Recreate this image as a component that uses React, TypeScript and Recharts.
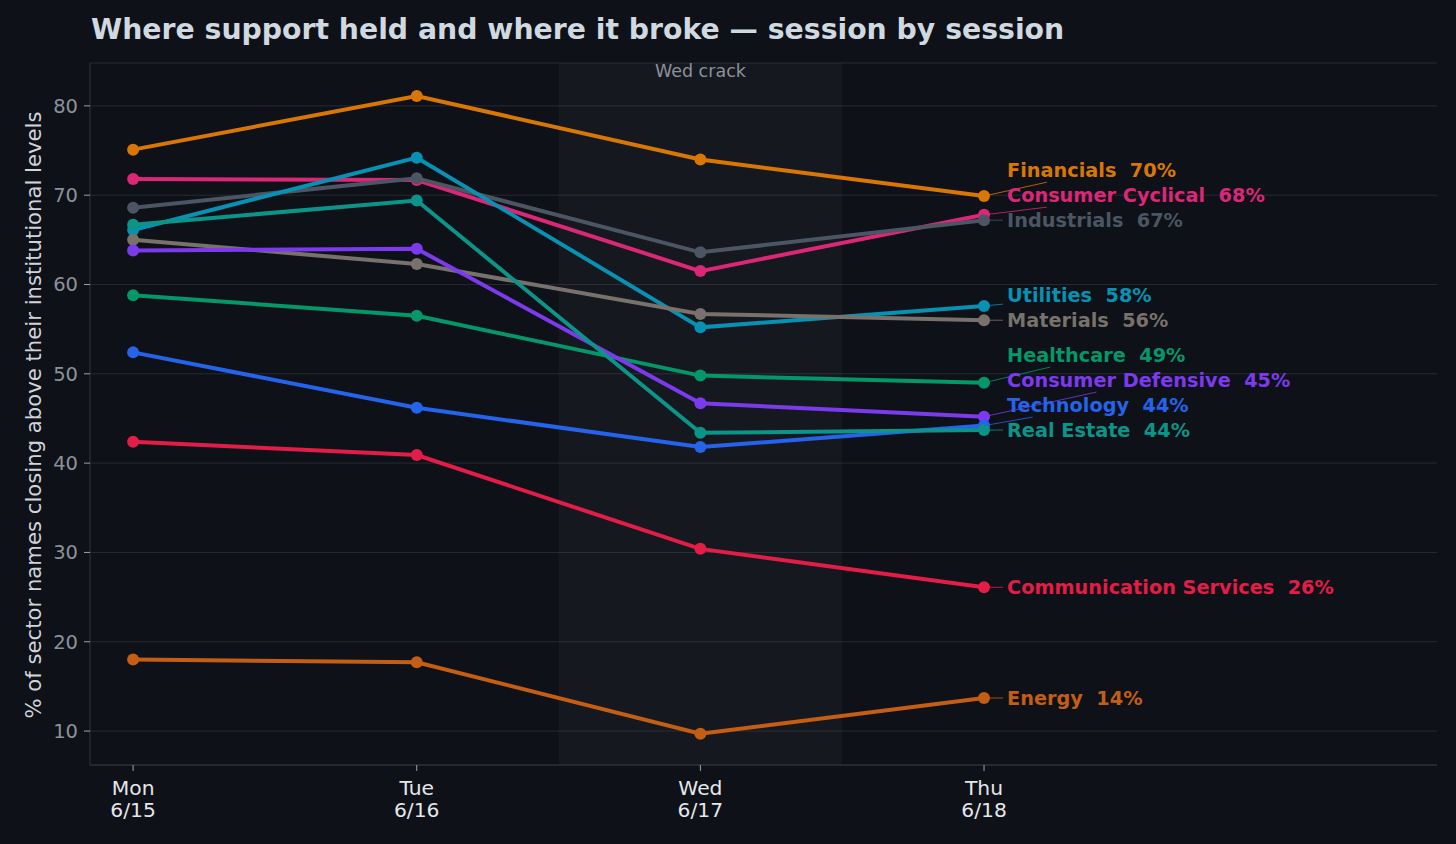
import {
  CartesianGrid,
  LabelList,
  Line,
  LineChart,
  ReferenceArea,
  XAxis,
  YAxis,
} from "recharts";

const DAYS = ["Mon", "Tue", "Wed", "Thu"];
const DATES = ["6/15", "6/16", "6/17", "6/18"];
const Y_TICKS = [10, 20, 30, 40, 50, 60, 70, 80];

// % of names above institutional levels, Mon..Thu
const FINANCIALS = [75.1, 81.1, 74.0, 69.9];
const CONSUMER_CYCLICAL = [71.8, 71.7, 61.5, 67.8];
const INDUSTRIALS = [68.6, 71.9, 63.6, 67.2];
const UTILITIES = [66.1, 74.2, 55.2, 57.6];
const MATERIALS = [65.0, 62.3, 56.7, 56.0];
const HEALTHCARE = [58.8, 56.5, 49.8, 49.0];
const CONSUMER_DEFENSIVE = [63.8, 64.0, 46.7, 45.2];
const TECHNOLOGY = [52.4, 46.2, 41.8, 44.2];
const REAL_ESTATE = [66.7, 69.4, 43.4, 43.7];
const COMMUNICATION = [42.4, 40.9, 30.4, 26.1];
const ENERGY = [18.0, 17.7, 9.7, 13.7];

const SERIES = [
  { name: "Financials", values: FINANCIALS, color: "#d97706" },
  { name: "Consumer Cyclical", values: CONSUMER_CYCLICAL, color: "#db2777" },
  { name: "Industrials", values: INDUSTRIALS, color: "#4b5563" },
  { name: "Utilities", values: UTILITIES, color: "#0891b2" },
  { name: "Materials", values: MATERIALS, color: "#78716c" },
  { name: "Healthcare", values: HEALTHCARE, color: "#059669" },
  { name: "Consumer Defensive", values: CONSUMER_DEFENSIVE, color: "#7c3aed" },
  { name: "Technology", values: TECHNOLOGY, color: "#2563eb" },
  { name: "Real Estate", values: REAL_ESTATE, color: "#0d9488" },
  { name: "Communication Services", values: COMMUNICATION, color: "#e11d48" },
  { name: "Energy", values: ENERGY, color: "#c45e14" },
];

const rows = DAYS.map((_, i) => {
  const row: Record<string, number> = { idx: i };
  SERIES.forEach((s) => (row[s.name] = s.values[i]));
  return row;
});

const W = 1456;
const H = 844;
const MARGIN = { top: 63, right: 19, bottom: 0, left: 0 };
const Y_AXIS_W = 90;
const X_AXIS_H = 79;
const Y_DOMAIN: [number, number] = [6.2, 84.8];
const X_DOMAIN: [number, number] = [-0.152, 4.597];
const PX_PER_UNIT = (H - MARGIN.top - X_AXIS_H) / (Y_DOMAIN[1] - Y_DOMAIN[0]);
const LABEL_GAP = 25;
const FONT = "'DejaVu Sans', sans-serif";
const BG = "#0e1117";

// push end labels apart (bottom-up), result is px shift from the end point
const labelShift: Record<string, number> = (() => {
  const last = (s: (typeof SERIES)[number]) => s.values[s.values.length - 1];
  const order = [...SERIES].sort((a, b) => last(b) - last(a));
  const py = order.map((s) => (Y_DOMAIN[1] - last(s)) * PX_PER_UNIT);
  const ly = [...py];
  for (let i = ly.length - 2; i >= 0; i--) ly[i] = Math.min(py[i], ly[i + 1] - LABEL_GAP);
  const out: Record<string, number> = {};
  order.forEach((s, i) => (out[s.name] = ly[i] - py[i]));
  return out;
})();

function XTick({ x, y, payload }: any) {
  const i = payload.value as number;
  return (
    <text x={x} y={y} textAnchor="middle" fill="#e5e7eb" fontSize={20.3} fontFamily={FONT}>
      <tspan x={x} dy={22}>{DAYS[i]}</tspan>
      <tspan x={x} dy={22}>{DATES[i]}</tspan>
    </text>
  );
}

function endLabel(s: (typeof SERIES)[number]) {
  return (p: any) => {
    if (p.index !== s.values.length - 1) return null;
    const px = Number(p.x);
    const py = Number(p.y);
    const text = `${s.name}  ${Math.round(s.values[s.values.length - 1])}%`;
    const tx = px + 23;
    const ty = py + labelShift[s.name];
    const w = text.length * 0.66 * 19;
    const cx = tx + w / 2;
    // leader runs toward the label centre, stopping at the label box
    const x0 = tx - 4;
    const tX = (x0 - px) / (cx - px);
    let tY = 0;
    if (ty < py) tY = (ty + 12 - py) / (ty - py);
    else if (ty > py) tY = (ty - 12 - py) / (ty - py);
    const t = Math.max(tX, tY);
    return (
      <g>
        <line
          x1={px}
          y1={py}
          x2={px + t * (cx - px)}
          y2={py + t * (ty - py)}
          stroke={s.color}
          strokeWidth={1}
          strokeOpacity={0.8}
        />
        <text
          x={tx}
          y={ty}
          dominantBaseline="central"
          fill={s.color}
          fontSize={19.3}
          fontWeight="bold"
          fontFamily={FONT}
          style={{ whiteSpace: "pre" }}
        >
          {text}
        </text>
      </g>
    );
  };
}

export default function App() {
  return (
    <div
      style={{
        position: "absolute",
        left: 0,
        top: 0,
        width: W,
        height: H,
        background: BG,
        fontFamily: FONT,
      }}
    >
      <LineChart width={W} height={H} data={rows} margin={MARGIN}>
        <CartesianGrid vertical={false} stroke="#252a32" strokeWidth={1} />
        <ReferenceArea
          x1={1.5}
          x2={2.5}
          fill="#ffffff"
          fillOpacity={0.03}
          stroke="none"
          label={{
            value: "Wed crack",
            position: "insideTop",
            fill: "#8b929b",
            fontSize: 17.5,
            fontFamily: FONT,
            offset: 2,
          }}
        />
        <XAxis
          type="number"
          dataKey="idx"
          domain={X_DOMAIN}
          ticks={[0, 1, 2, 3]}
          allowDataOverflow
          height={X_AXIS_H}
          tick={<XTick />}
          tickSize={6}
          axisLine={{ stroke: "#30353d" }}
          tickLine={{ stroke: "#9ca3af" }}
        />
        <YAxis
          type="number"
          domain={Y_DOMAIN}
          ticks={Y_TICKS}
          allowDataOverflow
          width={Y_AXIS_W}
          tickSize={6}
          tickMargin={6}
          tick={{ fill: "#8b929b", fontSize: 19.5, fontFamily: FONT }}
          axisLine={{ stroke: "#30353d" }}
          tickLine={{ stroke: "#9ca3af" }}
        />
        {SERIES.map((s) => (
          <Line
            key={s.name}
            type="linear"
            dataKey={s.name}
            stroke={s.color}
            strokeWidth={4}
            dot={{ r: 6, fill: s.color, stroke: s.color, strokeWidth: 0 }}
            activeDot={false}
            isAnimationActive={false}
          >
            <LabelList dataKey={s.name} content={endLabel(s)} />
          </Line>
        ))}
      </LineChart>
      <svg
        width={W}
        height={H}
        style={{ position: "absolute", left: 0, top: 0, pointerEvents: "none" }}
      >
        <text x={91} y={39} fill="#d1d9e0" fontSize={28.3} fontWeight="bold" fontFamily={FONT}>
          Where support held and where it broke — session by session
        </text>
        <text
          transform="translate(33,415) rotate(-90)"
          textAnchor="middle"
          dominantBaseline="central"
          fill="#d1d5db"
          fontSize={21.2}
          fontFamily={FONT}
        >
          % of sector names closing above their institutional levels
        </text>
      </svg>
    </div>
  );
}
